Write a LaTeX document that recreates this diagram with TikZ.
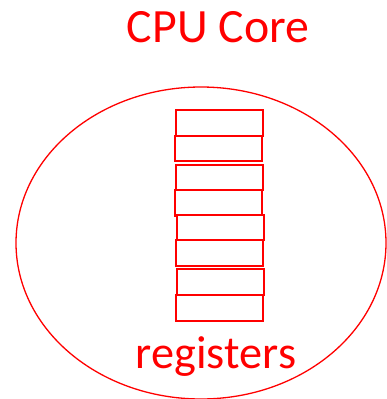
\documentclass[tikz,border=0pt]{standalone}
\usepackage{fontspec}
\setmainfont{Carlito}
\begin{document}
\begin{tikzpicture}[x=1pt,y=-1pt,
  core/.style={draw=red, line width=1.3pt},
  reg/.style={draw=red, line width=1.8pt, fill=white},
  lbl/.style={text=red, inner sep=0pt}]
  \useasboundingbox (0,0) rectangle (387,399);
  % core outline
  \draw[core] (201,243) ellipse [x radius=185, y radius=156];
  % register stack
  \foreach \i/\xa/\ya/\xb/\yb in {1/176.3/110/263.3/135.7, 2/175.3/135.7/262/161.3,
      3/176.3/165/263.3/190, 4/175.3/190/262/215.7, 5/177/215/264.3/240,
      6/176.3/240/263.3/266, 7/177/269.3/264.3/295, 8/176.3/295/263.3/320.7}
    \draw[reg] (\xa,\ya) rectangle (\xb,\yb) coordinate (r\i);
  \node[lbl, anchor=base, font=\fontsize{47.8}{52}\selectfont] (title) at (218,42.7) {CPU Core};
  \node[lbl, anchor=base, font=\fontsize{46.3}{52}\selectfont] (regs) at (216,368.3) {registers};
\end{tikzpicture}
\end{document}
